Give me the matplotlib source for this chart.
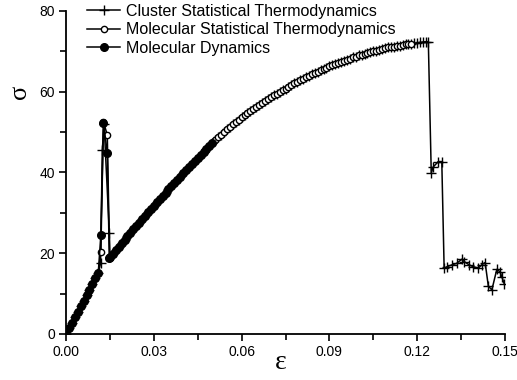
import matplotlib.pyplot as plt
import numpy as np

plt.rcParams['font.family'] = ['Liberation Sans', 'DejaVu Sans']

# start of the curve, 0 .. 0.011 (shared by all three series)
x_start = [0.000, 0.001, 0.002, 0.003, 0.004, 0.005, 0.006, 0.007, 0.008, 0.009, 0.010, 0.011]
y_start = [0.0, 1.4, 2.8, 4.2, 5.5, 6.9, 8.2, 9.6, 11.0, 12.4, 13.8, 15.0]

# the peak near eps = 0.013, each series a little different
x_peak_cst = [0.0118, 0.0124, 0.0130, 0.0148]
y_peak_cst = [17.5, 45.6, 52.0, 25.1]
x_peak_mst = [0.0119, 0.0128, 0.0141, 0.0149]
y_peak_mst = [20.4, 52.5, 49.3, 18.8]
x_peak_md = [0.0119, 0.0128, 0.0141, 0.0148]
y_peak_md = [24.5, 52.3, 44.9, 18.7]

# the long rising branch, 0.015 .. 0.123
x_curve = [0.015, 0.016, 0.017, 0.018, 0.019, 0.020, 0.021, 0.022, 0.023, 0.024,
           0.025, 0.026, 0.027, 0.028, 0.029, 0.030, 0.031, 0.032, 0.033, 0.034,
           0.035, 0.036, 0.037, 0.038, 0.039, 0.040, 0.041, 0.042, 0.043, 0.044,
           0.045, 0.046, 0.047, 0.048, 0.049, 0.050, 0.051, 0.052, 0.053, 0.054,
           0.055, 0.056, 0.057, 0.058, 0.059, 0.060, 0.061, 0.062, 0.063, 0.064,
           0.065, 0.066, 0.067, 0.068, 0.069, 0.070, 0.071, 0.072, 0.073, 0.074,
           0.075, 0.076, 0.077, 0.078, 0.079, 0.080, 0.081, 0.082, 0.083, 0.084,
           0.085, 0.086, 0.087, 0.088, 0.089, 0.090, 0.091, 0.092, 0.093, 0.094,
           0.095, 0.096, 0.097, 0.098, 0.099, 0.100, 0.101, 0.102, 0.103, 0.104,
           0.105, 0.106, 0.107, 0.108, 0.109, 0.110, 0.111, 0.112, 0.113, 0.114,
           0.115, 0.116, 0.117, 0.118, 0.119, 0.120, 0.121, 0.122, 0.123]
y_curve = [19.0, 19.9, 20.8, 21.6, 22.5, 23.4, 24.2, 25.1, 25.9, 26.8,
           27.6, 28.4, 29.3, 30.1, 31.0, 31.8, 32.6, 33.4, 34.2, 35.0,
           35.8, 36.6, 37.4, 38.2, 39.0, 39.8, 40.6, 41.3, 42.1, 42.8,
           43.6, 44.3, 45.1, 45.8, 46.6, 47.3, 48.0, 48.7, 49.3, 50.0,
           50.7, 51.3, 51.9, 52.5, 53.1, 53.7, 54.2, 54.7, 55.2, 55.7,
           56.2, 56.7, 57.2, 57.7, 58.2, 58.7, 59.1, 59.5, 60.0, 60.4,
           60.8, 61.2, 61.6, 62.1, 62.5, 62.9, 63.2, 63.6, 63.9, 64.3,
           64.6, 64.9, 65.3, 65.6, 66.0, 66.3, 66.6, 66.8, 67.1, 67.4,
           67.7, 67.9, 68.2, 68.5, 68.7, 69.0, 69.2, 69.4, 69.6, 69.8,
           70.0, 70.2, 70.4, 70.6, 70.8, 71.0, 71.1, 71.2, 71.3, 71.4,
           71.6, 71.7, 71.8, 71.9, 72.0, 72.1, 72.2, 72.3, 72.4]

# failure tail, only in the cluster model
x_tail = [0.1238, 0.1248, 0.1255, 0.1272, 0.1284, 0.1292, 0.1303, 0.1318, 0.1335,
          0.1352, 0.1361, 0.1378, 0.1390, 0.1409, 0.1420, 0.1432, 0.1443, 0.1455,
          0.1472, 0.1483, 0.1489, 0.1497]
y_tail = [72.4, 39.9, 41.4, 42.7, 42.7, 16.3, 16.7, 17.1, 17.5,
          18.5, 17.9, 17.1, 16.7, 16.3, 17.1, 17.7, 11.9, 10.9,
          16.0, 15.4, 14.2, 12.5]

mst_end = 0.1185   # open circles stop here
md_end = 0.0505    # filled circles stop here

xc = np.array(x_curve)
yc = np.array(y_curve)

x_cst = x_start + x_peak_cst + x_curve + x_tail
y_cst = y_start + y_peak_cst + y_curve + y_tail
x_mst = x_start + x_peak_mst + list(xc[xc <= mst_end])
y_mst = y_start + y_peak_mst + list(yc[xc <= mst_end])
x_md = x_start + x_peak_md + list(xc[xc <= md_end])
y_md = y_start + y_peak_md + list(yc[xc <= md_end])

fig = plt.figure(figsize=(5.17, 3.80), dpi=100)
ax = fig.add_axes([0.1277, 0.1211, 0.8491, 0.85])

ax.plot(x_cst, y_cst, color='black', lw=1.1, marker='+', ms=6.5, mew=1.0,
        label='Cluster Statistical Thermodynamics')
ax.plot(x_mst, y_mst, color='black', lw=1.1, marker='o', ms=4.5, mew=1.0,
        mfc='white', label='Molecular Statistical Thermodynamics')
ax.plot(x_md, y_md, color='black', lw=1.1, marker='o', ms=5.5, mfc='black',
        label='Molecular Dynamics')

ax.set_xlim(0, 0.15)
ax.set_ylim(0, 80)
ax.set_xticks([0.00, 0.03, 0.06, 0.09, 0.12, 0.15])
ax.set_xticks([0.015, 0.045, 0.075, 0.105, 0.135], minor=True)
ax.set_yticks([0, 20, 40, 60, 80])
ax.set_yticks([10, 30, 50, 70], minor=True)
ax.xaxis.set_major_formatter(plt.FuncFormatter(lambda v, p: '%.2f' % v))
ax.tick_params(which='major', direction='out', length=5, width=1.2, labelsize=10, pad=3)
ax.tick_params(which='minor', direction='out', length=4, width=1.2)

ax.spines['top'].set_visible(False)
ax.spines['right'].set_visible(False)
ax.spines['left'].set_linewidth(1.3)
ax.spines['bottom'].set_linewidth(1.3)

ax.set_xlabel('ε', fontsize=20, family=['Liberation Serif', 'DejaVu Serif'])
ax.set_ylabel('σ', fontsize=19, family=['Liberation Serif', 'DejaVu Serif'])
ax.xaxis.set_label_coords(0.49, -0.05)
ax.yaxis.set_label_coords(-0.08, 0.75)

ax.legend(loc='upper left', bbox_to_anchor=(0.168, 0.99), bbox_transform=fig.transFigure,
          frameon=False, fontsize=11.5, handlelength=2.1, handletextpad=0.38,
          labelspacing=0.22, borderpad=0, borderaxespad=0)

fig.savefig('out.png', dpi=100)
